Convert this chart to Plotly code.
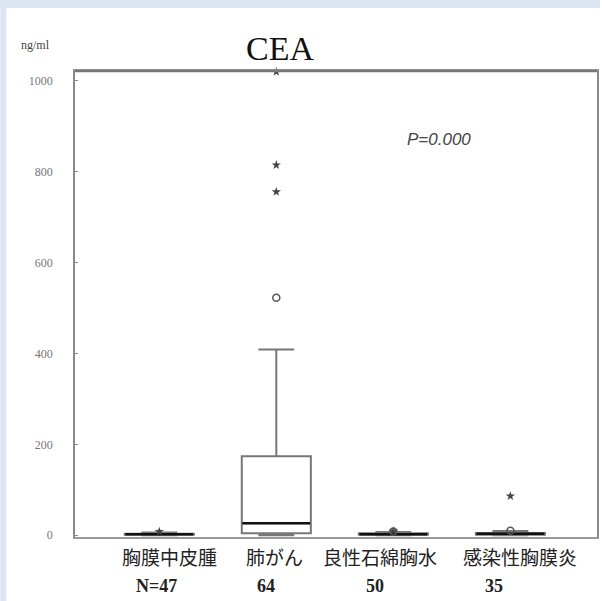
import plotly.graph_objects as go

categories = ["胸膜中皮腫", "肺がん", "良性石綿胸水", "感染性胸膜炎"]
n_labels = ["N=47", "64", "50", "35"]
lowerfence = [0, 0, 0, 0]
q1 = [1, 4, 1, 1]
median = [2, 26, 2, 3]
q3 = [3, 174, 4, 5]
upperfence = [6, 409, 7, 9]
# outliers: (category index, value)
circle_cat = [1, 2, 3]
circle_val = [523, 8, 10]
star_cat = [0, 1, 1, 1, 2, 3]
star_val = [8, 756, 815, 1020, 9, 86]

yticks = [0, 200, 400, 600, 800, 1000]
ytick_text = ["0", "200", "400", "600", "800", "1000"]

name_shift = [10, -2, -13, 10]
n_shift = [-3, -10, -18, -16]

fig = go.Figure()
xs = list(range(len(categories)))
fig.add_trace(go.Box(
    x=xs, q1=q1, median=median, q3=q3,
    lowerfence=lowerfence, upperfence=upperfence,
    width=0.59, whiskerwidth=0.52,
    fillcolor="white", line=dict(color="#777777", width=2),
    boxpoints=False, showlegend=False, hoverinfo="skip"))

# dark median lines
mx, my = [], []
for i, m in zip(xs, median):
    mx += [i - 0.29, i + 0.29, None]
    my += [m, m, None]
fig.add_trace(go.Scatter(x=mx, y=my, mode="lines",
                         line=dict(color="#111111", width=2.5),
                         showlegend=False, hoverinfo="skip"))

fig.add_trace(go.Scatter(x=circle_cat, y=circle_val, mode="markers",
                         marker=dict(symbol="circle-open", size=7,
                                     color="#555555", line=dict(width=1.5)),
                         showlegend=False, cliponaxis=False))
fig.add_trace(go.Scatter(x=star_cat, y=star_val, mode="markers",
                         marker=dict(symbol="star", size=7, color="#444444"),
                         showlegend=False, cliponaxis=False))

annotations = []
for i, (c, n) in enumerate(zip(categories, n_labels)):
    annotations.append(dict(x=i, y=0, xref="x", yref="paper", text=c,
                            showarrow=False, xanchor="center", yanchor="top", yshift=-4,
                            xshift=name_shift[i],
                            font=dict(family="Noto Sans CJK JP", size=19, color="#222222")))
    annotations.append(dict(x=i, y=0, xref="x", yref="paper", text="<b>" + n + "</b>",
                            showarrow=False, xanchor="center", yanchor="top", yshift=-37,
                            xshift=n_shift[i],
                            font=dict(family="Liberation Serif", size=18, color="#222222")))

annotations.append(dict(x=0.392, y=1, xref="paper", yref="paper", text="CEA",
                        showarrow=False, xanchor="center", yanchor="bottom", yshift=2,
                        font=dict(family="Liberation Serif", size=34, color="#111111")))
annotations.append(dict(x=-0.076, y=1, xref="paper", yref="paper", text="ng/ml",
                        showarrow=False, xanchor="center", yanchor="bottom", yshift=17,
                        font=dict(family="Liberation Serif", size=12, color="#444444")))
annotations.append(dict(x=0.697, y=0.852, xref="paper", yref="paper", text="<i>P=0.000</i>",
                        showarrow=False, xanchor="center", yanchor="middle",
                        font=dict(family="Liberation Sans", size=17, color="#444444")))

W, H = 602, 601
L, R, T, B = 75, 3, 71, 64
pw, ph = W - L - R, H - T - B
shapes = [
    dict(type="rect", xref="paper", yref="paper", layer="below",
         x0=-L / pw, x1=(6 - L) / pw, y0=-B / ph, y1=1 + T / ph,
         fillcolor="#dce6f2", line=dict(width=0)),
    dict(type="rect", xref="paper", yref="paper", layer="below",
         x0=-L / pw, x1=1 + R / pw, y0=1 + (T - 8) / ph, y1=1 + T / ph,
         fillcolor="#dce6f2", line=dict(width=0)),
    dict(type="line", xref="paper", yref="paper", x0=0, x1=1, y0=1, y1=1,
         line=dict(color="#777777", width=2.5)),
]

fig.update_layout(
    width=W, height=H,
    margin=dict(l=L, r=R, t=T, b=B),
    paper_bgcolor="white", plot_bgcolor="white",
    annotations=annotations, shapes=shapes,
    xaxis=dict(range=[-0.72, 3.74], showticklabels=False, ticks="",
               showgrid=False, zeroline=False, showline=True, mirror=True,
               linecolor="#999999", linewidth=1.5),
    yaxis=dict(range=[-4, 1022], tickvals=yticks, ticktext=ytick_text,
               ticks="inside", ticklen=3, tickcolor="#888888",
               ticklabelstandoff=18,
               tickfont=dict(family="Liberation Serif", size=12, color="#777777"),
               showgrid=False, zeroline=False, showline=True, mirror=True,
               linecolor="#888888", linewidth=1.5),
)

fig.write_html("out.html", config={"displayModeBar": False},
               post_script="document.body.style.margin='0';document.body.style.padding='0';")
